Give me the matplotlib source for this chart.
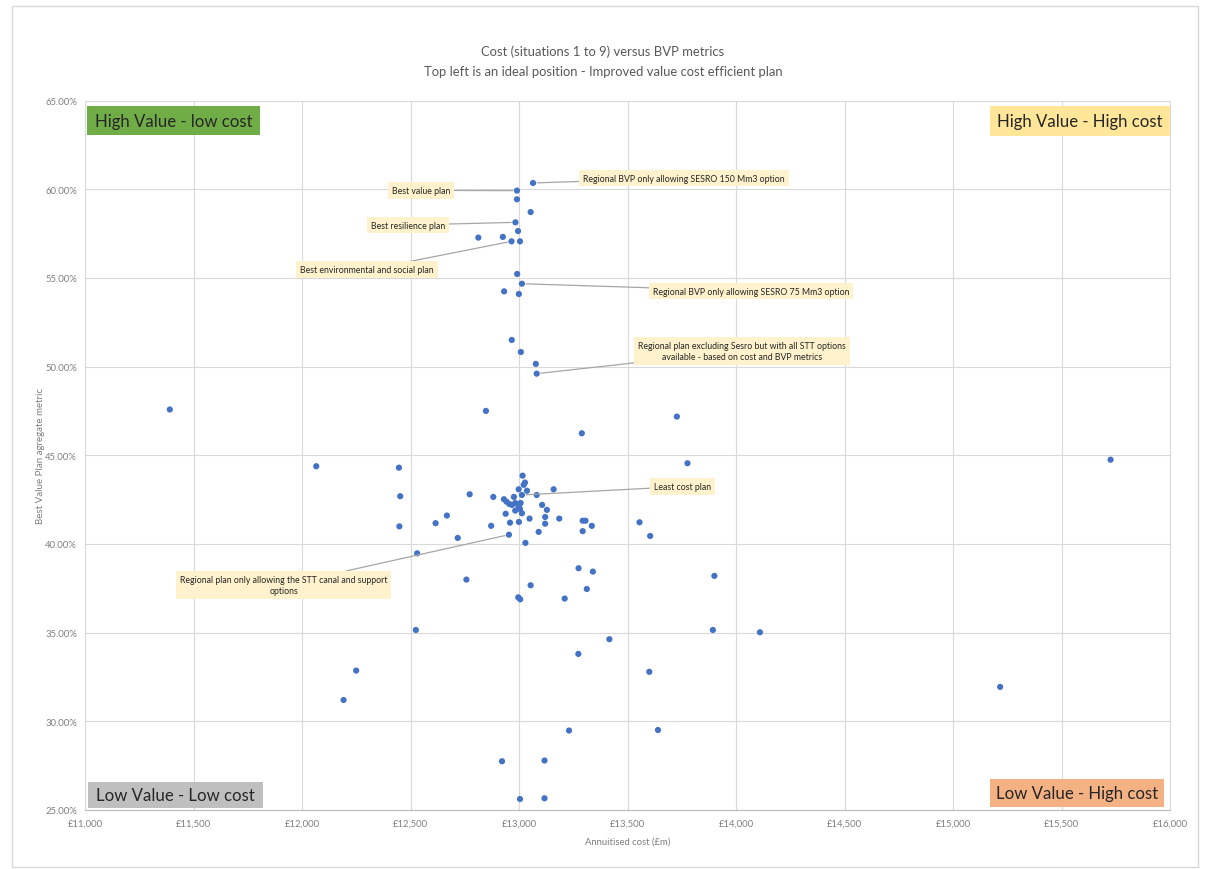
import matplotlib
matplotlib.use("Agg")
import matplotlib.pyplot as plt
from matplotlib.patches import Rectangle
from matplotlib.ticker import FuncFormatter, MultipleLocator

plt.rcParams['font.family'] = ['Lato', 'DejaVu Sans']

# Annualised cost (£m) of each modelled plan
cost = [
    13064, 12990, 12990, 13053, 12983, 12995, 12812, 12925, 12965, 13004,
    12991, 13013, 12931, 12999, 12966, 13008, 13077, 13081,
    11390, 12847, 13727, 13289, 15726, 13776, 12065, 12446,
    13016, 13027, 13021, 12998, 13159, 13036, 13013, 13081, 12772, 12881,
    12976, 12452, 12930, 12942, 12955, 12967, 12982, 13007, 12998, 12982,
    13004, 13013, 13106, 13128, 12938, 12667, 12615, 12871, 12958, 12999,
    13048, 13120, 13120, 13185, 13293, 13306, 13335, 13293, 12448, 13090,
    12717, 12953, 13029, 13555, 13604, 12530, 12757, 13274, 13340, 13053,
    13312, 12996, 13005, 13210, 13900,
    12524, 13893, 14110, 13416, 13273, 12249, 13600, 12191, 15217, 13230,
    13640, 12921, 13117, 13004, 13117,
]

# Best Value Plan aggregate metric (%) of each plan
bvp = [
    60.35, 59.92, 59.43, 58.71, 58.13, 57.64, 57.27, 57.31, 57.06, 57.06,
    55.22, 54.67, 54.24, 54.09, 51.50, 50.82, 50.15, 49.60,
    47.58, 47.50, 47.18, 46.24, 44.75, 44.55, 44.38, 44.30,
    43.85, 43.46, 43.33, 43.08, 43.08, 43.00, 42.76, 42.76, 42.80, 42.65,
    42.65, 42.69, 42.52, 42.38, 42.25, 42.20, 42.31, 42.31, 42.09, 41.88,
    41.97, 41.73, 42.20, 41.92, 41.70, 41.60, 41.17, 41.02, 41.20, 41.24,
    41.43, 41.52, 41.14, 41.43, 41.31, 41.31, 41.02, 40.72, 40.99, 40.68,
    40.34, 40.52, 40.06, 41.22, 40.45, 39.47, 37.99, 38.63, 38.44, 37.67,
    37.46, 36.99, 36.88, 36.92, 38.20,
    35.15, 35.15, 35.02, 34.63, 33.80, 32.86, 32.79, 31.20, 31.94, 29.48,
    29.51, 27.75, 27.79, 25.62, 25.66,
]

# Named plans: label text and the index of the plan it points at
plan_labels = [
    "Best value plan",
    "Best resilience plan",
    "Best environmental and social plan",
    "Regional BVP only allowing SESRO 150 Mm3 option",
    "Regional BVP only allowing SESRO 75 Mm3 option",
    "Regional plan excluding Sesro but with all STT options\navailable - based on cost and BVP metrics",
    "Least cost plan",
    "Regional plan only allowing the STT canal and support\noptions",
]
plan_index = [1, 4, 8, 0, 11, 17, 32, 67]

# Where each callout box sits (data coordinates)
callout_pos = [
    (12549, 59.93), (12488, 57.98), (12299, 55.45), (13760, 60.63),
    (14068, 54.26), (14026, 50.88), (13753, 43.24), (11914, 37.69),
]

quadrant_text = ["High Value - low cost", "High Value - High cost",
                 "Low Value - Low cost", "Low Value - High cost"]
quadrant_colour = ["#70AD47", "#FFE699", "#BFBFBF", "#F4B183"]
# (x0, y0, w, h) in axes fraction
quadrant_box = [(0.0017, 0.9514, 0.1594, 0.0408),
                (0.8340, 0.9500, 0.1660, 0.0422),
                (0.0023, 0.0024, 0.1619, 0.0375),
                (0.8343, 0.0040, 0.1602, 0.0397)]

W, H = 1206, 870
fig = plt.figure(figsize=(W / 100, H / 100), dpi=100)
fig.patch.set_facecolor("white")

# chart-area frame
fig.add_artist(Rectangle((12 / W, 2 / H), (1198 - 12) / W, (863 - 2) / H,
                         transform=fig.transFigure, fill=False,
                         edgecolor="#D9D9D9", linewidth=1.0))

left, right, top, bottom = 85.2, 1170, 101.5, 811
ax = fig.add_axes([left / W, 1 - bottom / H, (right - left) / W, (bottom - top) / H])

ax.set_xlim(11000, 16000)
ax.set_ylim(25, 65)
ax.xaxis.set_major_locator(MultipleLocator(500))
ax.yaxis.set_major_locator(MultipleLocator(5))
ax.xaxis.set_major_formatter(FuncFormatter(lambda v, p: f"£{v:,.0f}"))
ax.yaxis.set_major_formatter(FuncFormatter(lambda v, p: f"{v:.2f}%"))
ax.grid(True, color="#D9D9D9", linewidth=0.8)
ax.set_axisbelow(True)
for side in ("top", "right", "left"):
    ax.spines[side].set_color("#D9D9D9")
    ax.spines[side].set_linewidth(0.8)
ax.spines["bottom"].set_color("#BFBFBF")
ax.spines["bottom"].set_linewidth(0.9)
ax.tick_params(length=0, labelsize=6.8, labelcolor="#7F7F7F", pad=6)

ax.scatter(cost, bvp, s=20, color="#4472C4", edgecolors="none", zorder=3)

for text, idx, pos in zip(plan_labels, plan_index, callout_pos):
    ax.annotate(text, xy=(cost[idx], bvp[idx]), xytext=pos,
                ha="center", va="center", fontsize=6.3, color="#262626",
                linespacing=1.3,
                bbox=dict(boxstyle="square,pad=0.45", facecolor="#FFF2CC",
                          edgecolor="none"),
                arrowprops=dict(arrowstyle="-", color="#A6A6A6", lw=0.9,
                                shrinkA=0, shrinkB=3),
                zorder=4)

for text, colour, (x0, y0, w, h) in zip(quadrant_text, quadrant_colour, quadrant_box):
    ax.add_patch(Rectangle((x0, y0), w, h, transform=ax.transAxes,
                           facecolor=colour, edgecolor="none", zorder=5))
    ax.text(x0 + w / 2, y0 + h / 2, text, transform=ax.transAxes,
            ha="center", va="center", fontsize=12.1, color="#262626", zorder=6)

ax.set_xlabel("Annuitised cost (£m)", fontsize=6.8, color="#7F7F7F")
ax.set_ylabel("Best Value Plan agregate metric", fontsize=7, color="#7F7F7F")
ax.xaxis.set_label_coords(0.5, -0.038)
ax.yaxis.set_label_coords(-0.037, 0.5)

fig.text(603 / W, 1 - 52 / H, "Cost (situations 1 to 9) versus BVP metrics",
         ha="center", va="center", fontsize=9.4, color="#595959")
fig.text(603 / W, 1 - 72 / H,
         "Top left is an ideal position - Improved value cost efficient plan",
         ha="center", va="center", fontsize=9.4, color="#595959")

fig.savefig("out.png", dpi=100)
